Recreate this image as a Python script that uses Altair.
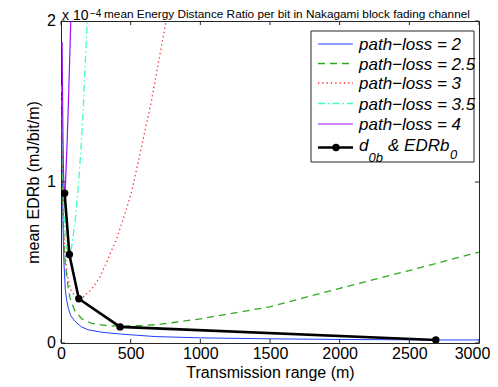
import altair as alt
import pandas as pd

# ---------------- data ----------------
x_ticks = [0, 500, 1000, 1500, 2000, 2500, 3000]
y_ticks = [0, 1, 2]

series_labels = ["path−loss = 2", "path−loss = 2.5", "path−loss = 3",
                 "path−loss = 3.5", "path−loss = 4"]

# transmission range (m) and mean EDRb (x 1e-4 mJ/bit/m)
d_pl2 = [8, 12, 17, 22, 31, 40, 53, 70, 100, 146, 196, 300, 435, 675, 1000, 1500, 2000, 2690, 3000]
edr_pl2 = [1.25, 0.88, 0.62, 0.48, 0.33, 0.27, 0.215, 0.17, 0.135, 0.10, 0.082, 0.066, 0.055, 0.04,
           0.032, 0.026, 0.022, 0.019, 0.019]

d_pl25 = [8, 12, 17, 22, 30, 40, 52, 65, 80, 100, 150, 220, 340, 435, 580, 700, 1000, 1500, 2000, 2500, 3000]
edr_pl25 = [1.35, 0.98, 0.72, 0.6, 0.5, 0.42, 0.34, 0.28, 0.24, 0.2, 0.15, 0.122, 0.107, 0.105, 0.108,
            0.115, 0.15, 0.225, 0.34, 0.45, 0.565]

d_pl3 = [8, 12, 17, 22, 30, 41, 50, 70, 100, 128, 153, 215, 280, 340, 400, 460, 507, 538, 646, 754, 780]
edr_pl3 = [1.45, 1.05, 0.78, 0.65, 0.55, 0.45, 0.40, 0.33, 0.29, 0.275, 0.28, 0.33, 0.41, 0.526, 0.65,
           0.806, 0.94, 1.06, 1.49, 2.0, 2.12]

d_pl35 = [8, 12, 17, 22, 30, 40, 50, 60, 77, 100, 108, 120, 132, 156, 172, 189, 200]
edr_pl35 = [1.6, 1.2, 0.95, 0.8, 0.68, 0.6, 0.56, 0.55, 0.6, 0.75, 0.82, 0.93, 1.06, 1.385, 1.7, 2.0, 2.2]

d_pl4 = [8, 11, 14, 18, 22, 26, 30, 36, 44, 53, 62, 70, 74]
edr_pl4 = [1.87, 1.55, 1.28, 1.06, 0.96, 0.93, 0.95, 1.07, 1.25, 1.49, 1.75, 2.0, 2.12]

d_opt = [26, 60, 128, 424, 2690]
edr_opt = [0.93, 0.55, 0.275, 0.10, 0.019]

# ---------------- layout / style ----------------
W, H = 418, 322
TL = 4  # inward tick length (px)
FONT = "Liberation Sans"
X_TITLE = "Transmission range (m)"
Y_TITLE = "mean EDRb (mJ/bit/m)"

xs = alt.Scale(domain=[x_ticks[0], x_ticks[-1]], nice=False, zero=False)
ys = alt.Scale(domain=[y_ticks[0], y_ticks[-1]], nice=False, zero=False)

x_axis = alt.Axis(values=x_ticks, format="d", ticks=False, domain=False, grid=False,
                  labelFlush=False, labelOverlap=False, labelFontSize=16, labelFont=FONT,
                  labelColor="black", labelPadding=2,
                  labelOffset={"condition": {"test": "datum.value === 3000", "value": -7}, "value": 0},
                  titleFontSize=16, titleFont=FONT, titleFontWeight="normal", titleColor="black",
                  titleBaseline="alphabetic", titleY=34)
y_axis = alt.Axis(labels=False, ticks=False, domain=False, grid=False,
                  titleFontSize=16, titleFont=FONT,
                  titleFontWeight="normal", titleColor="black",
                  titleBaseline="alphabetic", titleX=-22.5, titleY=H / 2)


def X(f):
    return alt.X(f"{f}:Q", scale=xs, axis=x_axis, title=X_TITLE)


def Y(f):
    return alt.Y(f"{f}:Q", scale=ys, axis=y_axis, title=Y_TITLE)


styles = [
    {"color": "#2040ff", "strokeWidth": 1},
    {"color": "#2eaa1e", "strokeWidth": 1.3, "strokeDash": [7, 5]},
    {"color": "#ff2a2a", "strokeWidth": 1.3, "strokeDash": [1.3, 3]},
    {"color": "#40ffc0", "strokeWidth": 1.3, "strokeDash": [7, 3, 1.5, 3]},
    {"color": "#9a10f5", "strokeWidth": 1.2},
]
curves = [(d_pl2, edr_pl2), (d_pl25, edr_pl25), (d_pl3, edr_pl3),
          (d_pl35, edr_pl35), (d_pl4, edr_pl4)]

layers = []
for (dd, ee), st in zip(curves, styles):
    df = pd.DataFrame({"d": dd, "edr": ee})
    layers.append(alt.Chart(df).mark_line(clip=True, **st).encode(x=X("d"), y=Y("edr")))

opt_df = pd.DataFrame({"d": d_opt, "edr": edr_opt})
layers.append(alt.Chart(opt_df).mark_line(clip=True, color="black", strokeWidth=2.6)
              .encode(x=X("d"), y=Y("edr")))
layers.append(alt.Chart(opt_df).mark_circle(clip=True, color="black", size=55, opacity=1)
              .encode(x=X("d"), y=Y("edr")))

# inward ticks (MATLAB style) on all four sides
xt_df = pd.DataFrame({"d": x_ticks})
yt_df = pd.DataFrame({"edr": y_ticks})
tk = dict(color="#262626", strokeWidth=1)
layers.append(alt.Chart(xt_df).mark_rule(**tk).encode(x=X("d"), y=alt.value(H - TL), y2=alt.value(H)))
layers.append(alt.Chart(xt_df).mark_rule(**tk).encode(x=X("d"), y=alt.value(0), y2=alt.value(TL)))
layers.append(alt.Chart(yt_df).mark_rule(**tk).encode(y=Y("edr"), x=alt.value(0), x2=alt.value(TL)))
layers.append(alt.Chart(yt_df).mark_rule(**tk).encode(y=Y("edr"), x=alt.value(W - TL), x2=alt.value(W)))

# y tick labels, drawn through the y scale
ylab_df = pd.DataFrame({"edr": y_ticks, "lab": [str(v) for v in y_ticks]})
layers.append(alt.Chart(ylab_df).mark_text(align="right", baseline="middle", font=FONT, fontSize=16,
                                           color="black", dx=-5)
              .encode(x=alt.value(0), y=Y("edr"), text="lab:N"))

one = pd.DataFrame({"k": [0]})

# exponent and title text
layers.append(alt.Chart(one).mark_text(align="left", baseline="alphabetic", font=FONT, fontSize=14,
                                       color="black")
              .encode(x=alt.value(1), y=alt.value(-1.5), text=alt.value("x 10")))
layers.append(alt.Chart(one).mark_text(align="left", baseline="alphabetic", font=FONT, fontSize=10,
                                       color="black")
              .encode(x=alt.value(29), y=alt.value(-4.5), text=alt.value("−4")))
layers.append(alt.Chart(one).mark_text(align="left", baseline="alphabetic", font=FONT, fontSize=11.8,
                                       color="black")
              .encode(x=alt.value(43), y=alt.value(-3),
                      text=alt.value("mean Energy Distance Ratio per bit in Nakagami block fading channel")))

# legend box
layers.append(alt.Chart(one).mark_rect(fill="white", stroke="#262626", strokeWidth=1)
              .encode(x=alt.value(250), x2=alt.value(413), y=alt.value(10), y2=alt.value(141)))
row_y = [23, 42.5, 62, 82.5, 103]
for lab, st, ly in zip(series_labels, styles, row_y):
    layers.append(alt.Chart(one).mark_rule(**st)
                  .encode(x=alt.value(257), x2=alt.value(292), y=alt.value(ly)))
    layers.append(alt.Chart(one).mark_text(align="left", baseline="alphabetic", font=FONT, fontSize=17,
                                           fontStyle="italic", color="black")
                  .encode(x=alt.value(298), y=alt.value(ly + 6), text=alt.value(lab)))
ly6 = 126.5
layers.append(alt.Chart(one).mark_rule(color="black", strokeWidth=2.6)
              .encode(x=alt.value(257), x2=alt.value(292), y=alt.value(ly6)))
layers.append(alt.Chart(one).mark_circle(color="black", size=55, opacity=1)
              .encode(x=alt.value(275), y=alt.value(ly6)))
leg_parts = [("d", 298, 129.7, 17), ("0b", 307.5, 140.5, 13), ("& EDRb", 327, 129.7, 17), ("0", 389, 138, 13)]
for txt, lx, lyy, fs in leg_parts:
    layers.append(alt.Chart(one).mark_text(align="left", baseline="alphabetic", font=FONT, fontSize=fs,
                                           fontStyle="italic", color="black")
                  .encode(x=alt.value(lx), y=alt.value(lyy), text=alt.value(txt)))

chart = alt.layer(*layers).properties(
    width=W, height=H,
    autosize=alt.AutoSizeParams(type="none"),
    padding={"left": 53, "top": 13, "right": 11, "bottom": 39},
).configure_view(stroke="#262626", strokeWidth=1)

chart.save("out.html", embed_options={"renderer": "svg", "actions": False})
